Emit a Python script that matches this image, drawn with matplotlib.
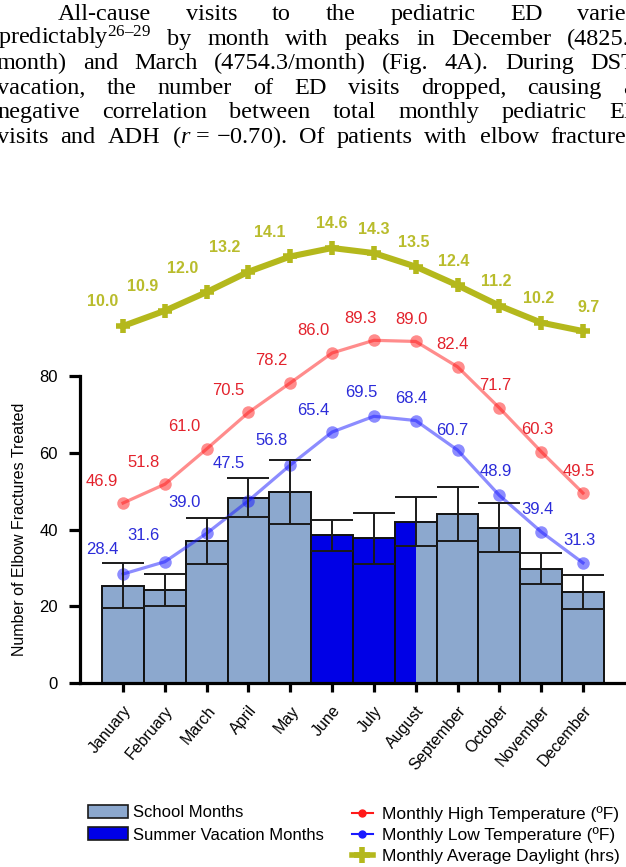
import matplotlib
matplotlib.use("Agg")
import matplotlib.pyplot as plt
from matplotlib.lines import Line2D
from matplotlib.patches import Patch
import numpy as np

plt.rcParams['font.family'] = ['Liberation Sans', 'DejaVu Sans']
plt.rcParams['mathtext.fontset'] = 'custom'
plt.rcParams['mathtext.rm'] = 'Liberation Serif'
plt.rcParams['mathtext.it'] = 'Liberation Serif:italic'

# ---- data ----
months = ["January", "February", "March", "April", "May", "June",
          "July", "August", "September", "October", "November", "December"]
fractures = [25.4, 24.2, 37.0, 48.3, 49.7, 38.5, 37.7, 42.0, 44.0, 40.5, 29.8, 23.7]
fracture_err = [5.8, 4.1, 5.9, 5.1, 8.3, 4.0, 6.6, 6.4, 7.0, 6.4, 4.1, 4.4]
period = ["school"] * 5 + ["summer"] * 2 + ["split"] + ["school"] * 4
high_temp = [46.9, 51.8, 61.0, 70.5, 78.2, 86.0, 89.3, 89.0, 82.4, 71.7, 60.3, 49.5]
low_temp = [28.4, 31.6, 39.0, 47.5, 56.8, 65.4, 69.5, 68.4, 60.7, 48.9, 39.4, 31.3]
daylight = [10.0, 10.9, 12.0, 13.2, 14.1, 14.6, 14.3, 13.5, 12.4, 11.2, 10.2, 9.7]

paragraph = [
    "All-cause visits to the pediatric ED varied",
    "predictably$^{26\u201329}$ by month with peaks in December (4825.",
    "month) and March (4754.3/month) (Fig. 4A). During DST",
    "vacation, the number of ED visits dropped, causing a",
    "negative correlation between total monthly pediatric ED",
    "visits and ADH ($r\\,=\\,$\u22120.70). Of patients with elbow fractures",
]

# ---- styling ----
W, H = 626, 867
school_c = "#8CA8CE"
summer_c = "#0000E6"
high_c, low_c, day_c = "#FF1A1A", "#1A1AFF", "#B4B81C"
high_txt, low_txt, day_txt = "#E3222C", "#2B2BD9", "#B9BC2C"
# label offsets in pixels (dx per month)
temp_dx = [-21, -21, -22, -20, -19, -19, -13, -4, -5, -4, -4, -4]
day_dx = [-20, -22, -24, -24, -21, 0, 0, -2, -4, -3, -3, 6]
low_dy = [25, 26, 31, 37, 25, 22, 24, 22, 20, 24, 22, 22]

fig = plt.figure(figsize=(W / 100, H / 100), dpi=100)

# justified paragraph text at the top
line_x = [(58, 638), (-2, 630), (-3, 636), (-3, 634), (-3, 642), (-3, 636)]
first_base = 20
line_step = 24.6
renderer = fig.canvas.get_renderer()
for i, line in enumerate(paragraph):
    words = line.split(" ")
    y = 1 - (first_base + i * line_step) / H
    texts = [fig.text(0, y, w, fontsize=17.5, family='Liberation Serif',
                      va='baseline', ha='left') for w in words]
    widths = [t.get_window_extent(renderer).width for t in texts]
    x0, x1 = line_x[i]
    gap = max((x1 - x0 - sum(widths)) / (len(words) - 1), 4)
    x = x0
    for t, w in zip(texts, widths):
        t.set_x(x / W)
        x += w + gap

# ---- main axes ----
y_top = 125
px_per_unit = (683 - 376) / 80.0
ax = fig.add_axes([80 / W, (H - 683) / H, 1 - 80 / W, y_top * px_per_unit / H])
ax.patch.set_alpha(0)
ax.set_ylim(0, y_top)
ax.set_xlim(-1.03, 12.03)
x = np.arange(len(months))

for i in range(len(months)):
    if period[i] == "split":
        ax.bar(x[i], fractures[i], width=1.0, color=school_c, edgecolor='none', zorder=2)
        ax.bar(x[i] - 0.5, fractures[i], width=0.5, align='edge', color=summer_c,
               edgecolor='none', zorder=2)
        ax.bar(x[i], fractures[i], width=1.0, facecolor='none', edgecolor='#111111',
               linewidth=1.4, zorder=2)
    else:
        c = summer_c if period[i] == "summer" else school_c
        ax.bar(x[i], fractures[i], width=1.0, color=c, edgecolor='#111111',
               linewidth=1.4, zorder=2)

ax.plot(x, high_temp, color=high_c, alpha=0.5, lw=2.3, marker='o', ms=9,
        markeredgewidth=0, zorder=3, clip_on=False)
ax.plot(x, low_temp, color=low_c, alpha=0.5, lw=2.3, marker='o', ms=9,
        markeredgewidth=0, zorder=3, clip_on=False)
ax.errorbar(x, fractures, yerr=fracture_err, fmt='none', ecolor='#1a1a1a',
            elinewidth=1.4, capsize=15, capthick=1.4, zorder=4)

for i in range(len(months)):
    ax.annotate("%.1f" % high_temp[i], (x[i], high_temp[i]), xytext=(temp_dx[i], 22),
                textcoords='offset pixels', ha='center', va='center',
                color=high_txt, fontsize=12, zorder=5)
    ax.annotate("%.1f" % low_temp[i], (x[i], low_temp[i]), xytext=(temp_dx[i], low_dy[i]),
                textcoords='offset pixels', ha='center', va='center',
                color=low_txt, fontsize=12, zorder=5)

# daylight on its own scale (10 h at ~326 px, 14.6 h at ~248 px)
ax2 = ax.twinx()
ax2.patch.set_alpha(0)
day_px_per_hr = (326 - 248) / 4.6
day_ref = (683 - 326) / px_per_unit  # left units at 10 h
units_per_hr = day_px_per_hr / px_per_unit
ax2.set_ylim(10 - day_ref / units_per_hr, 10 + (y_top - day_ref) / units_per_hr)
ax2.plot(x, daylight, color=day_c, lw=4.4, marker='+', ms=10, mew=4, zorder=3,
         clip_on=False)
for i in range(len(months)):
    ax2.annotate("%.1f" % daylight[i], (x[i], daylight[i]), xytext=(day_dx[i], 24),
                 textcoords='offset pixels', ha='center', va='center',
                 color=day_txt, fontsize=11.5, fontweight='bold')
ax2.axis('off')

# axes cosmetics
for s in ['top', 'right']:
    ax.spines[s].set_visible(False)
ax.spines['left'].set_bounds(0, 80)
ax.spines['left'].set_linewidth(2.3)
ax.spines['bottom'].set_linewidth(2.3)
ax.set_yticks([0, 20, 40, 60, 80])
ax.set_xticks(x)
ax.set_xticklabels(months, rotation=50, ha='right', rotation_mode='anchor')
ax.tick_params(axis='y', length=8, width=2.3, labelsize=12, pad=8)
ax.tick_params(axis='x', length=6.5, width=2.3, labelsize=11.5, pad=8)
ax.set_ylabel("Number of Elbow Fractures Treated", fontsize=11.5)
ax.yaxis.set_label_coords(-0.097, 40 / y_top)

# legends
bar_handles = [Patch(facecolor=school_c, edgecolor='#1a1a1a', linewidth=1.2),
               Patch(facecolor=summer_c, edgecolor='#1a1a1a', linewidth=1.2)]
fig.legend(bar_handles, ["School Months", "Summer Vacation Months"],
           loc='upper left', bbox_to_anchor=(88 / W, 1 - 805 / H), frameon=False,
           fontsize=12, handlelength=2.4, handleheight=0.85, handletextpad=0.3,
           labelspacing=0.4, borderpad=0, borderaxespad=0)
line_handles = [Line2D([], [], color=high_c, lw=1.5, marker='o', ms=5),
                Line2D([], [], color=low_c, lw=1.5, marker='o', ms=5),
                Line2D([], [], color=day_c, lw=4, marker='+', ms=11, mew=4)]
fig.legend(line_handles, ["Monthly High Temperature (\u00baF)",
                          "Monthly Low Temperature (\u00baF)",
                          "Monthly Average Daylight (hrs)"],
           loc='upper left', bbox_to_anchor=(352 / W, 1 - 806 / H), frameon=False,
           fontsize=12.5, handlelength=1.2, handletextpad=0.55,
           labelspacing=0.32, borderpad=0, borderaxespad=0)

fig.savefig("out.png", dpi=100)
